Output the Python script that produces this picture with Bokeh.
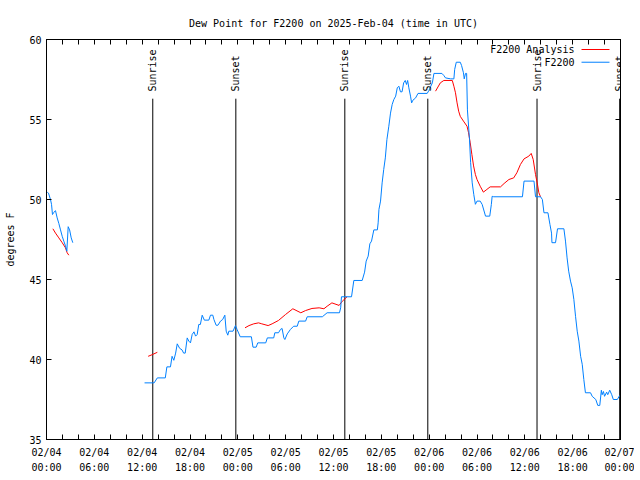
import math
from bokeh.plotting import figure
from bokeh.models import (ColumnDataSource, LinearAxis, FixedTicker, Range1d,
                          LabelSet, Label)
from bokeh.core.properties import value
from bokeh.embed import file_html
from bokeh.resources import INLINE

NaN = float("nan")

# ---- data: hours since 2025-02-04 00:00 UTC, dew point (F) ----
obs_hours = [0.1, 0.25, 0.5, 0.63, 0.75, 0.92, 1.13, 1.34, 1.55, 1.76, 1.97, 2.17, 2.38, 2.55, 2.72, 2.9, 3.1, 3.3,
             NaN,
             12.3, 13.5, 13.9, 14.9, 15.1, 15.55, 15.75, 15.97, 16.2, 16.4, 16.7, 17.0, 17.2, 17.4, 17.65, 17.85,
             18.06, 18.27, 18.5, 18.7, 18.9, 19.1, 19.3, 19.53, 19.8, 20.36, 20.57, 20.86, 21.0, 21.28, 21.5,
             21.83, 22.1, 22.37, 22.54, 22.74, 22.87, 23.4, 23.7, 23.9, 24.3, 25.7, 25.9, 26.3, 26.5, 27.5, 27.7,
             28.5, 28.64, 29.1, 29.35, 29.55, 29.77, 29.9, 30.2, 30.6, 31.0, 31.45, 31.65, 32.5, 32.7, 34.6, 35.2,
             36.75, 36.9, 37.0, 38.26, 38.55, 39.6, 39.9, 40.1, 40.35, 40.56, 40.77, 41.06, 41.5, 41.6, 41.7, 41.9,
             42.1, 42.3, 42.5, 42.7, 42.94, 43.15, 43.36, 43.57, 43.8, 44.0, 44.2, 44.4, 44.6, 44.8, 45.0, 45.16,
             45.3, 45.45, 45.66, 45.8, 45.95, 46.3, 46.6, 47.75, 47.95, 48.4, 48.6, 49.6, 49.84, 50.05, 50.7, 51.1,
             51.2, 51.4, 51.9, 52.06, 52.3, 52.4, 52.56, 52.7, 52.8, 53.06, 53.2, 53.4, 53.6, 53.8, 54.0, 54.4,
             54.65, 55.07, 55.6, 55.8, 55.9, 56.1, 59.7, 59.9, 61.15, 61.34, 61.97, 62.2, 62.4, 62.9, 63.15, 63.35,
             63.4, 63.85, 64.1, 64.9, 65.1, 65.3, 65.5, 65.73, 65.94, 66.15, 66.36, 66.57, 66.78, 67.0, 67.2, 67.4,
             67.6, 68.24, 68.45, 68.9, 69.15, 69.4, 69.6, 69.7, 69.86, 70.0, 70.26, 70.4, 70.65, 70.9, 71.1, 71.6,
             71.9]
obs_values = [50.45, 50.4, 50.0, 49.7, 49.06, 49.2, 49.3, 48.85, 48.5, 48.1, 47.7, 47.4, 47.1, 46.77, 48.3, 48.1, 47.6, 47.3,
              NaN,
              38.54, 38.54, 38.85, 38.85, 39.54, 39.54, 40.2, 39.95, 40.4, 40.98, 40.7, 40.6, 40.4, 40.4, 41.35, 41.15,
              41.04, 41.56, 41.73, 41.46, 41.56, 42.19, 42.19, 42.77, 42.46, 42.46, 42.77, 42.77, 42.5, 42.14, 42.14,
              42.4, 42.5, 42.77, 41.77, 41.52, 41.77, 41.77, 42.12, 41.88, 41.42, 41.42, 40.77, 40.77, 41.04, 41.04, 41.35,
              41.35, 41.67, 41.67, 41.88, 41.94, 41.35, 41.25, 41.6, 41.88, 42.08, 42.08, 42.4, 42.4, 42.67, 42.67, 42.92,
              42.92, 43.23, 43.92, 43.92, 44.94, 44.94, 45.46, 46.15, 46.46, 47.23, 47.4, 48.1, 48.1, 48.54, 49.38, 49.9,
              51.04, 51.88, 52.6, 53.75, 54.58, 55.4, 55.94, 56.25, 56.46, 56.98, 57.08, 56.73, 56.73, 57.29, 57.44, 57.19,
              57.44, 56.98, 56.46, 56.04, 56.2, 56.35, 56.63, 56.63, 56.8, 57.29, 57.88, 57.88, 57.75, 57.6, 57.54, 57.54,
              58.13, 58.58, 58.58, 58.38, 57.92, 57.54, 57.88, 57.88, 55.6, 53.75, 52.3, 51.04, 50.3, 49.7, 49.9, 49.9,
              49.69, 48.96, 48.96, 49.69, 50.2, 50.17, 50.17, 51.15, 51.15, 50.17, 50.17, 50.0, 49.17, 49.17, 48.44, 47.9,
              47.3, 47.3, 48.17, 48.17, 47.4, 46.35, 45.52, 44.9, 44.48, 43.75, 42.7, 41.77, 41.15, 40.2, 39.7, 38.75,
              37.92, 37.92, 37.7, 37.5, 37.13, 37.13, 38.08, 37.8, 38.0, 37.7, 37.96, 37.8, 38.08, 37.8, 37.5, 37.5,
              37.75]

ana_hours = [0.8, 1.13, 1.55, 1.97, 2.38, 2.59, 2.8,
             NaN,
             12.75, 13.25, 13.9,
             NaN,
             24.9, 25.4, 26.0, 26.6, 27.0, 27.8, 28.3, 29.1, 29.98, 30.9, 31.9, 32.5, 33.3, 34.2, 34.8, 35.2, 35.8,
             36.7, 37.1, 37.7,
             NaN,
             48.8, 49.4, 49.84, 50.9, 51.1, 51.3, 51.5, 51.7, 51.9, 52.3, 52.75, 52.94, 53.15, 53.36, 53.57, 53.8,
             54.0, 54.4, 54.8, 55.24, 55.65, 56.95, 57.4, 58.0, 58.6, 59.0, 59.45, 59.9, 60.5, 60.8, 61.05, 61.34,
             61.55, 61.76, 61.97]
ana_values = [48.17, 47.9, 47.6, 47.3, 46.98, 46.67, 46.52,
              NaN,
              40.2, 40.3, 40.45,
              NaN,
              41.98, 42.12, 42.23, 42.29, 42.23, 42.12, 42.23, 42.44, 42.81, 43.17, 42.92, 43.06, 43.19, 43.23, 43.17,
              43.33, 43.54, 43.38, 43.64, 43.92,
              NaN,
              56.77, 57.29, 57.44, 57.44, 57.08, 56.67, 56.04, 55.52, 55.2, 54.9, 54.58, 54.17, 53.54, 52.8, 52.1, 51.56,
              51.25, 50.83, 50.46, 50.63, 50.79, 50.79, 51.0, 51.25, 51.35, 51.67, 52.19, 52.54, 52.71, 52.88, 52.5, 51.56,
              51.04, 50.42, 50.17]

sun_hours = [13.33, 23.75, 37.42, 47.83, 61.53, 71.9]
sun_names = ["Sunrise", "Sunset", "Sunrise", "Sunset", "Sunrise", "Sunset"]

tick_hours = list(range(0, 73, 6))
tick_labels = ["02/04\n00:00", "02/04\n06:00", "02/04\n12:00", "02/04\n18:00",
               "02/05\n00:00", "02/05\n06:00", "02/05\n12:00", "02/05\n18:00",
               "02/06\n00:00", "02/06\n06:00", "02/06\n12:00", "02/06\n18:00",
               "02/07\n00:00"]
minor_hours = list(range(0, 73, 2))
y_ticks = [35, 40, 45, 50, 55, 60]

FONT = "DejaVu Sans Mono"
FS = "10px"
RED = "#ff0000"
BLUE = "#0080ff"

p = figure(frame_width=574, frame_height=400,
           x_range=Range1d(0, 72), y_range=Range1d(35, 60),
           output_backend="svg", toolbar_location=None,
           min_border_left=46, min_border_right=14, min_border_top=39, min_border_bottom=32,
           x_axis_type=None, y_axis_type=None,
           title="Dew Point for F2200 on 2025-Feb-04 (time in UTC)")
p.title.align = "center"
p.title.text_font = FONT
p.title.text_font_size = FS
p.title.text_font_style = "normal"
p.title.text_color = "black"
p.title.standoff = 22
p.xgrid.visible = False
p.ygrid.visible = False
p.outline_line_color = "black"
p.outline_line_width = 1
p.background_fill_color = "white"
p.border_fill_color = "white"

overrides = {}
for h in minor_hours:
    overrides[h] = ""
for h, lab in zip(tick_hours, tick_labels):
    overrides[h] = lab


def style_axis(ax, show_labels):
    ax.axis_line_color = "black"
    ax.major_tick_in = 5
    ax.major_tick_out = 0
    ax.minor_tick_in = 0
    ax.minor_tick_out = 0
    ax.major_tick_line_color = "black"
    ax.major_label_text_font = FONT
    ax.major_label_text_font_size = FS if show_labels else "0px"
    ax.major_label_text_color = "black"
    ax.major_label_standoff = 7 if show_labels else 0
    ax.axis_label_text_font = FONT
    ax.axis_label_text_font_size = FS
    ax.axis_label_text_font_style = "normal"
    ax.axis_label_text_color = "black"


xb = LinearAxis(ticker=FixedTicker(ticks=minor_hours), major_label_overrides=overrides)
style_axis(xb, True)
xb.major_label_text_line_height = 1.4
p.add_layout(xb, "below")

xt = LinearAxis(ticker=FixedTicker(ticks=minor_hours))
style_axis(xt, False)
p.add_layout(xt, "above")

yl = LinearAxis(ticker=FixedTicker(ticks=y_ticks), axis_label="degrees F")
style_axis(yl, True)
yl.major_label_standoff = 5
yl.axis_label_standoff = 10
p.add_layout(yl, "left")

yr = LinearAxis(ticker=FixedTicker(ticks=y_ticks))
style_axis(yr, False)
p.add_layout(yr, "right")

# sunrise / sunset markers
sun_src = ColumnDataSource(dict(x=sun_hours, y0=[35] * len(sun_hours), y1=[56.3] * len(sun_hours),
                                ty=[56.75] * len(sun_hours), text=sun_names))
p.segment(x0="x", y0="y0", x1="x", y1="y1", source=sun_src, line_color="black", line_width=1)
p.add_layout(LabelSet(x="x", y="ty", text="text", source=sun_src, angle=math.pi / 2,
                      text_align="left", text_baseline="middle", text_font=value(FONT),
                      text_font_size=value(FS), text_color="black"))

# series
p.line(ana_hours, ana_values, line_color=RED, line_width=1)
p.line(obs_hours, obs_values, line_color=BLUE, line_width=1)

# gnuplot-style key (text then sample)
key_names = ["F2200 Analysis", "F2200"]
key_colors = [RED, BLUE]
key_y = [59.375, 58.58]
for name, col, ky in zip(key_names, key_colors, key_y):
    p.add_layout(Label(x=66.23, y=ky, text=name, text_align="right", text_baseline="middle",
                       text_font=FONT, text_font_size=FS, text_color="black"))
    p.line([67.11, 70.62], [ky, ky], line_color=col, line_width=1)

open("out.html", "w").write(file_html(p, INLINE))
